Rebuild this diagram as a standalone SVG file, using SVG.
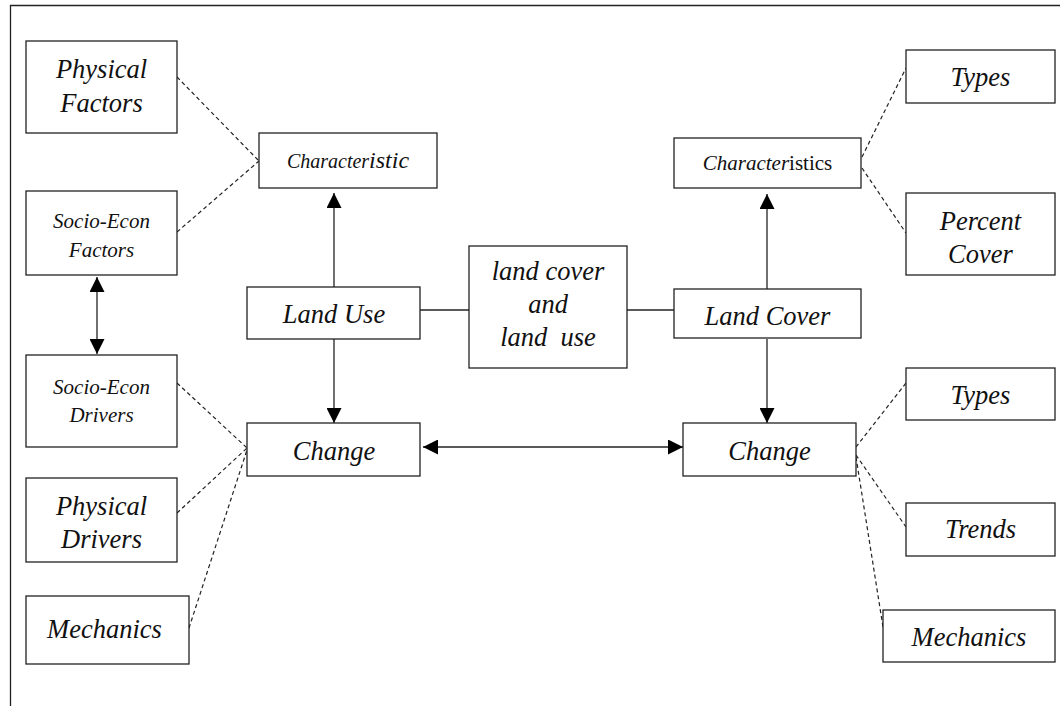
<svg xmlns="http://www.w3.org/2000/svg" width="1060" height="706" viewBox="0 0 1060 706">
<style>
.box{fill:#fff;stroke:#222;stroke-width:1.3}
.t{font-family:"Liberation Serif","Times New Roman",serif;font-style:italic;fill:#111;text-anchor:middle}
.big{font-size:26.5px}
.sm{font-size:21px}
.ln{stroke:#222;stroke-width:1.3;fill:none}
.ds{stroke:#222;stroke-width:1.2;stroke-dasharray:4 3;fill:none}
</style>
<defs>
<marker id="ah" viewBox="0 0 10 10" refX="10" refY="5" markerWidth="15" markerHeight="15" markerUnits="userSpaceOnUse" orient="auto-start-reverse">
<path d="M0,0 L10,5 L0,10 z" fill="#000"/>
</marker>
</defs>
<rect x="0" y="0" width="1060" height="706" fill="#fff"/>
<path d="M10.5,706 V5.5 H1060" class="ln"/>
<g id="connectors">
<line class="ln" x1="334" y1="287" x2="334" y2="193" marker-end="url(#ah)"/>
<line class="ln" x1="334" y1="339" x2="334" y2="423" marker-end="url(#ah)"/>
<line class="ln" x1="97" y1="277" x2="97" y2="354" marker-start="url(#ah)" marker-end="url(#ah)"/>
<line class="ln" x1="420" y1="310" x2="469" y2="310"/>
<line class="ln" x1="627" y1="310" x2="674" y2="310"/>
<line class="ln" x1="767" y1="289" x2="767" y2="194" marker-end="url(#ah)"/>
<line class="ln" x1="767" y1="339" x2="767" y2="423" marker-end="url(#ah)"/>
<line class="ln" x1="423" y1="447" x2="683" y2="447" marker-start="url(#ah)" marker-end="url(#ah)"/>
<line class="ds" x1="177" y1="77" x2="259" y2="161"/>
<line class="ds" x1="177" y1="232" x2="259" y2="161"/>
<line class="ds" x1="862" y1="157" x2="906" y2="68"/>
<line class="ds" x1="862" y1="168" x2="906" y2="233"/>
<line class="ds" x1="177" y1="383" x2="247" y2="448"/>
<line class="ds" x1="177" y1="513" x2="247" y2="448"/>
<line class="ds" x1="189" y1="628" x2="247" y2="450"/>
<line class="ds" x1="856" y1="447" x2="906" y2="383"/>
<line class="ds" x1="856" y1="455" x2="906" y2="527"/>
<line class="ds" x1="856" y1="457" x2="883" y2="627"/>
</g>
<g id="physical-factors"><rect class="box" x="26" y="41" width="151" height="92"/><text class="t big" x="101.5" y="78">Physical</text><text class="t big" x="101.5" y="112">Factors</text></g>
<g id="characteristic-left"><rect class="box" x="259" y="133" width="178" height="55"/><text class="t" x="348" y="168"><tspan font-size="20">Character</tspan><tspan font-size="24">istic</tspan></text></g>
<g id="socio-econ-factors"><rect class="box" x="26" y="191" width="151" height="84"/><text class="t sm" x="101.5" y="228">Socio-Econ</text><text class="t sm" x="101.5" y="257">Factors</text></g>
<g id="socio-econ-drivers"><rect class="box" x="26" y="355" width="151" height="92"/><text class="t sm" x="101.5" y="394">Socio-Econ</text><text class="t sm" x="101.5" y="422">Drivers</text></g>
<g id="physical-drivers"><rect class="box" x="26" y="478" width="151" height="84"/><text class="t big" x="101.5" y="515">Physical</text><text class="t big" x="101.5" y="548">Drivers</text></g>
<g id="mechanics-left"><rect class="box" x="26" y="596" width="163" height="68"/><text class="t big" x="104.5" y="638">Mechanics</text></g>
<g id="land-use"><rect class="box" x="247" y="287" width="173" height="52"/><text class="t big" x="334" y="323">Land Use</text></g>
<g id="change-left"><rect class="box" x="247" y="423" width="173" height="53"/><text class="t big" x="334" y="460">Change</text></g>
<g id="center"><rect class="box" x="469" y="246" width="158" height="122"/><text class="t big" x="548" y="280">land cover</text><text class="t big" x="548" y="313">and</text><text class="t big" x="548" y="346" xml:space="preserve">land  use</text></g>
<g id="characteristics-right"><rect class="box" x="674" y="138" width="187" height="50"/><text class="t" x="767.5" y="170" font-size="21"><tspan>Character</tspan><tspan font-style="normal">istics</tspan></text></g>
<g id="land-cover"><rect class="box" x="674" y="289" width="187" height="49"/><text class="t big" x="767.5" y="325">Land Cover</text></g>
<g id="change-right"><rect class="box" x="683" y="423" width="173" height="53"/><text class="t big" x="769.5" y="460">Change</text></g>
<g id="types-top"><rect class="box" x="906" y="50" width="149" height="53"/><text class="t big" x="980.5" y="86">Types</text></g>
<g id="percent-cover"><rect class="box" x="906" y="193" width="149" height="82"/><text class="t big" x="980.5" y="230">Percent</text><text class="t big" x="980.5" y="263">Cover</text></g>
<g id="types-change"><rect class="box" x="906" y="368" width="149" height="52"/><text class="t big" x="980.5" y="404">Types</text></g>
<g id="trends"><rect class="box" x="906" y="503" width="149" height="53"/><text class="t big" x="980.5" y="538">Trends</text></g>
<g id="mechanics-right"><rect class="box" x="883" y="610" width="172" height="52"/><text class="t big" x="969" y="646">Mechanics</text></g>
</svg>
